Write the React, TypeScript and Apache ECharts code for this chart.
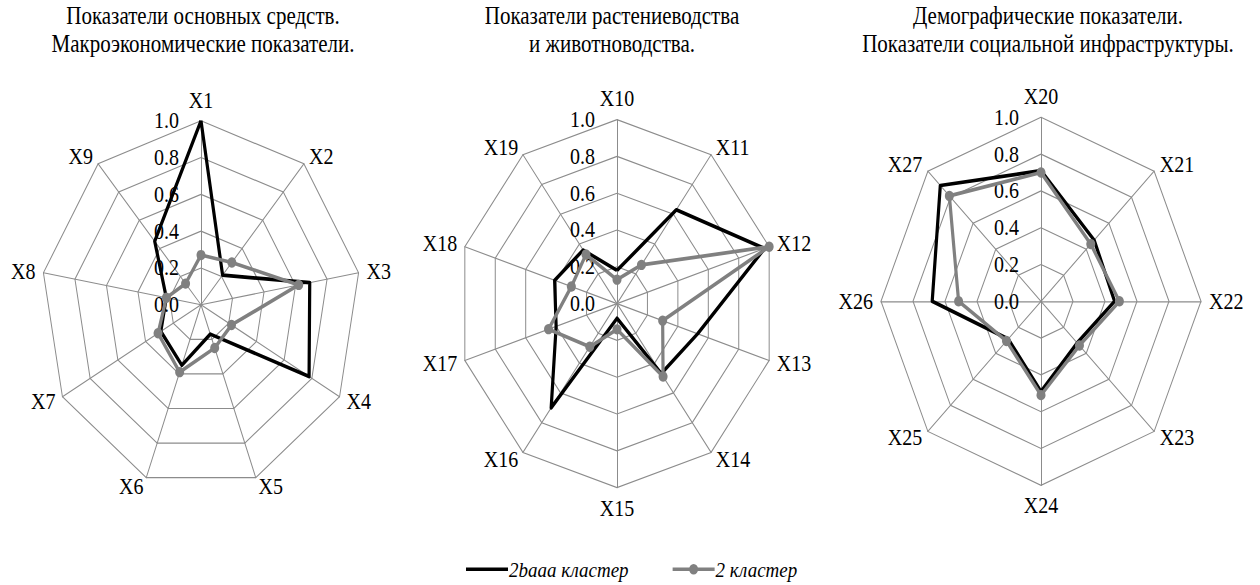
import React, { useEffect, useRef } from "react";
import * as echarts from "echarts";

const S = 1.15;
const W = 1260;
const H = 585 / S;
const FONT = "Liberation Serif, Times New Roman, serif";

const titles = [
  "Показатели основных средств.\nМакроэкономические показатели.",
  "Показатели растениеводства\nи животноводства.",
  "Демографические показатели.\nПоказатели социальной инфраструктуры.",
];

const names1 = ["X1", "X2", "X3", "X4", "X5", "X6", "X7", "X8", "X9"];
const black1 = [1.0, 0.21, 0.69, 0.78, 0.17, 0.35, 0.29, 0.22, 0.45];
const gray1 = [0.27, 0.3, 0.62, 0.22, 0.25, 0.39, 0.31, 0.22, 0.15];

const names2 = ["X10", "X11", "X12", "X13", "X14", "X15", "X16", "X17", "X18", "X19"];
const black2 = [0.18, 0.63, 0.97, 0.53, 0.47, 0.08, 0.7, 0.4, 0.41, 0.36];
const gray2 = [0.13, 0.26, 1.0, 0.3, 0.49, 0.14, 0.29, 0.45, 0.3, 0.33];

const names3 = ["X20", "X21", "X22", "X23", "X24", "X25", "X26", "X27"];
const black3 = [0.71, 0.47, 0.46, 0.32, 0.49, 0.29, 0.68, 0.89];
const gray3 = [0.7, 0.44, 0.49, 0.34, 0.51, 0.305, 0.515, 0.81];

const seriesNames = ["2baaa кластер", "2 кластер"];
const tickMin = 0;
const tickMax = 1;
const tickSplit = 5;

const centers = [
  [201, 265],
  [617, 264],
  [1041, 262],
];
const titleX = [198, 607, 1043];

// clockwise order: ECharts lays indicators counter-clockwise
function cw<T>(arr: T[]): T[] {
  return [arr[0], ...arr.slice(1).reverse()];
}

const GRID = "#8c8c8c";
const BLACK = "#000000";
const GRAY = "#808080";

export default function App() {
  const ref = useRef<HTMLDivElement>(null);
  useEffect(() => {
    if (!ref.current) return;
    const chart = echarts.init(ref.current, undefined, {
      renderer: "svg",
      width: W,
      height: H,
    });
    const groups = [
      { names: names1, black: black1, gray: gray1 },
      { names: names2, black: black2, gray: gray2 },
      { names: names3, black: black3, gray: gray3 },
    ];
    const radar = groups.map((g, i) => ({
      center: centers[i],
      radius: 160,
      startAngle: 90,
      splitNumber: tickSplit,
      shape: "polygon",
      axisName: { color: "#000", fontSize: 20, fontFamily: FONT },
      nameGap: 8,
      axisLine: { show: true, lineStyle: { color: GRID, width: 1 } },
      splitLine: { show: true, lineStyle: { color: GRID, width: 1 } },
      splitArea: { show: false },
      axisTick: { show: false },
      axisLabel: { show: false },
      indicator: cw(g.names).map((n, k) => ({
        name: n,
        min: tickMin,
        max: tickMax,
        ...(k === 0
          ? {
              axisLabel: {
                show: true,
                color: "#000",
                fontSize: 20,
                fontFamily: FONT,
                margin: 22,
                formatter: (v: number) => v.toFixed(1),
              },
            }
          : {}),
      })),
    }));
    const series = groups.map((g, i) => ({
      type: "radar",
      radarIndex: i,
      data: [
        {
          name: seriesNames[0],
          value: cw(g.black),
          symbol: "none",
          lineStyle: { color: BLACK, width: 3.2 },
          itemStyle: { color: BLACK },
        },
        {
          name: seriesNames[1],
          value: cw(g.gray),
          symbol: "circle",
          symbolSize: 9,
          lineStyle: { color: GRAY, width: 3.2 },
          itemStyle: { color: GRAY },
        },
      ],
    }));
    const option: any = {
      animation: false,
      backgroundColor: "#fff",
      textStyle: { fontFamily: FONT },
      title: titles.map((t, i) => ({
        text: t,
        left: titleX[i],
        top: -3,
        textAlign: "center",
        textStyle: {
          fontFamily: FONT,
          fontSize: 21,
          fontWeight: "normal",
          color: "#000",
          lineHeight: 24,
        },
      })),
      legend: {
        left: 461,
        top: 480.5,
        itemWidth: 42,
        itemHeight: 10,
        itemGap: 44,
        textStyle: {
          fontFamily: FONT,
          fontSize: 19,
          fontStyle: "italic",
          color: "#000",
          padding: [0, 0, 0, -4],
        },
        itemStyle: { borderWidth: 0 },
        data: [
          {
            name: seriesNames[0],
            icon: "path://M0,0 M42,10 M0,3.5 L42,3.5 L42,6.5 L0,6.5 Z",
            itemStyle: { color: BLACK },
          },
          {
            name: seriesNames[1],
            icon:
              "path://M0,0 M42,10 M0,3.5 L17,3.5 L17,6.5 L0,6.5 Z M25,3.5 L42,3.5 L42,6.5 L25,6.5 Z M25.5,5 A4.5,4.5 0 1,1 16.5,5 A4.5,4.5 0 1,1 25.5,5 Z",
            itemStyle: { color: GRAY },
          },
        ],
      },
      radar,
      series,
    };
    chart.setOption(option);
    return () => chart.dispose();
  }, []);
  return (
    <div
      style={{
        position: "fixed",
        left: 0,
        top: 0,
        width: W,
        height: 585,
        background: "#fff",
        overflow: "hidden",
      }}
    >
      <div
        ref={ref}
        style={{
          width: W,
          height: H,
          transform: `scaleY(${S})`,
          transformOrigin: "0 0",
        }}
      />
    </div>
  );
}
